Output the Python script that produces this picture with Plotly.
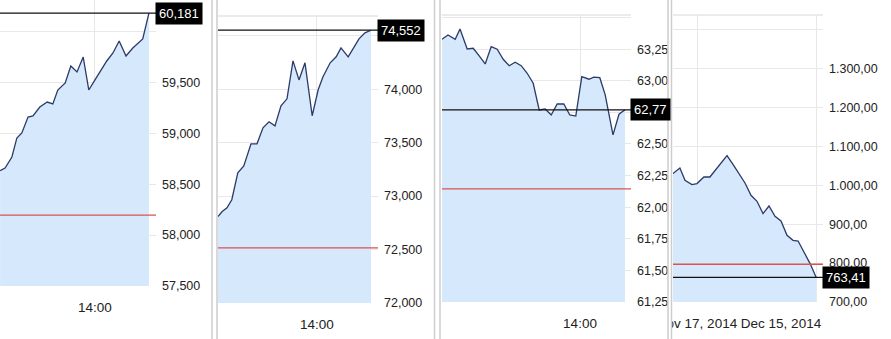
import plotly.graph_objects as go

W, H = 891, 339

# ---------------- data ----------------
# Panel 1 (minutes relative to 14:00)
p1_x = [-153, -145, -134, -126, -118, -108, -100, -89, -77, -68, -60, -48, -39, -29, -19, -10, 0, 19, 29, 39, 50, 61, 77, 87]
p1_y = [58633, 58659, 58767, 58954, 59003, 59160, 59170, 59258, 59307, 59288, 59425, 59494, 59661, 59602, 59749, 59425,
        59524, 59710, 59789, 59907, 59759, 59838, 59926, 60181]
p1_ref = 58196
p1_last_label = "60,181"
p1_ticks = [57500, 58000, 58500, 59000, 59500, 60000]
p1_ticktext = ["57,500", "58,000", "58,500", "59,000", "59,500", ""]

# Panel 2
p2_x = [-165, -158, -150, -142, -132, -122, -110, -100, -90, -80, -70, -60, -50, -40, -30, -20, -8, 2, 10, 22, 32, 40, 52, 60, 70, 80, 90]
p2_y = [72809, 72856, 72891, 72966, 73218, 73283, 73489, 73489, 73639, 73695, 73657, 73844, 73910, 74265, 74087, 74247,
        73752, 73995, 74116, 74247, 74303, 74387, 74303, 74378, 74471, 74527, 74552]
p2_ref = 72515
p2_last_label = "74,552"
p2_ticks = [72000, 72500, 73000, 73500, 74000, 74500]
p2_ticktext = ["72,000", "72,500", "73,000", "73,500", "74,000", ""]

# Panel 3
p3_x = [-230, -220, -208, -200, -188, -178, -168, -158, -148, -138, -128, -118, -108, -98, -88, -78, -68, -58, -48, -38,
        -27, -17, -7, 3, 15, 23, 33, 42, 55, 65, 75]
p3_y = [63.328, 63.362, 63.328, 63.410, 63.251, 63.257, 63.196, 63.133, 63.270, 63.249, 63.170, 63.119, 63.146, 63.119,
        63.059, 62.980, 62.769, 62.777, 62.729, 62.816, 62.816, 62.729, 62.721, 63.032, 63.012, 63.028, 63.024, 62.888,
        62.572, 62.735, 62.77]
p3_ref = 62.144
p3_last_label = "62,77"
p3_ticks = [61.25, 61.5, 61.75, 62.0, 62.25, 62.5, 62.75, 63.0, 63.25, 63.5]
p3_ticktext = ["61,25", "61,50", "61,75", "62,00", "62,25", "62,50", "", "63,00", "63,25", ""]

# Panel 4 (days relative to Nov 17, 2014)
p4_x = [-8, -5.7, -4, -1.7, 0, 2.3, 4.3, 10, 12, 14, 16, 18, 20, 22, 24, 26, 28, 30, 32, 33.7, 35.7, 37.7, 39.7]
p4_y = [1030.1, 1044.5, 1012.9, 1001.8, 1004.4, 1021.4, 1021.4, 1076.4, 1054.0, 1030.1, 1005.9, 974.3, 958.9, 927.3,
        946.8, 920.3, 908.3, 871.5, 858.6, 856.8, 827.0, 798.7, 763.41]
p4_ref = 797
p4_last_label = "763,41"
p4_ticks = [700, 800, 900, 1000, 1100, 1200, 1300, 1400]
p4_ticktext = ["700,00", "800,00", "900,00", "1.000,00", "1.100,00", "1.200,00", "1.300,00", ""]
p4_xticks = [0, 28]
p4_xticktext = ["Nov 17, 2014", "Dec 15, 2014"]

time_ticks = [0]
time_ticktext = ["14:00"]

# ---------------- style ----------------
LINE = "#2b3a67"
FILL = "#d6e8fc"
RED = "#d9534f"
GRID = "#e8e8e8"
SEP = "#cdcdcd"
FONT = "Arial, Liberation Sans, sans-serif"
TXT = "#222222"


def xd(a, b):
    return [a / W, b / W]


def yd(top, bottom):
    return [1 - bottom / H, 1 - top / H]


panels = [
    dict(x=p1_x, y=p1_y, ref=p1_ref, lab=p1_last_label, ticks=p1_ticks, tt=p1_ticktext,
         xdom=xd(0, 156), ydom=yd(0, 286), xr=[-153.2, 98.4], yr=[57500, 60309],
         xt=time_ticks, xtt=time_ticktext, top=False),
    dict(x=p2_x, y=p2_y, ref=p2_ref, lab=p2_last_label, ticks=p2_ticks, tt=p2_ticktext,
         xdom=xd(218, 378), ydom=yd(16, 303), xr=[-165, 101.7], yr=[72000, 74685],
         xt=time_ticks, xtt=time_ticktext, top=True),
    dict(x=p3_x, y=p3_y, ref=p3_ref, lab=p3_last_label, ticks=p3_ticks, tt=p3_ticktext,
         xdom=xd(442, 631), ydom=yd(15, 302), xr=[-230, 85], yr=[61.25, 63.52],
         xt=time_ticks, xtt=time_ticktext, top=True),
    dict(x=p4_x, y=p4_y, ref=p4_ref, lab=p4_last_label, ticks=p4_ticks, tt=p4_ticktext,
         xdom=xd(673, 823), ydom=yd(15, 302), xr=[-8, 42], yr=[700, 1437.8],
         xt=p4_xticks, xtt=p4_xticktext, top=True),
]

fig = go.Figure()
shapes = []
annotations = []
layout = {}

for i, p in enumerate(panels, start=1):
    sx = "" if i == 1 else str(i)
    xa, ya = "x" + sx, "y" + sx
    fig.add_trace(go.Scatter(
        x=p["x"], y=p["y"], mode="lines", xaxis=xa, yaxis=ya,
        line=dict(color=LINE, width=1.3), fill="tozeroy", fillcolor=FILL,
        showlegend=False, hoverinfo="skip"))

    xaxis = dict(domain=p["xdom"], range=p["xr"], anchor=ya, showline=False, zeroline=False,
                 tickmode="array", tickvals=p["xt"], ticktext=p["xtt"], ticks="", automargin=False,
                 tickfont=dict(family=FONT, size=13.5, color=TXT), ticklabelstandoff=11,
                 showgrid=True, gridcolor=GRID, gridwidth=1, fixedrange=True)
    if i == 4:
        xaxis["showgrid"] = False
        xaxis["minor"] = dict(tickmode="array", tickvals=[0, p["x"][-1]], showgrid=True,
                              gridcolor=GRID, gridwidth=1, ticks="")
    yaxis = dict(domain=p["ydom"], range=p["yr"], anchor=xa, side="right", showline=False,
                 zeroline=False, tickmode="array", tickvals=p["ticks"], ticktext=p["tt"], ticks="",
                 automargin=False,
                 tickfont=dict(family=FONT, size=12.5, color=TXT), ticklabelstandoff=5,
                 showgrid=True, gridcolor=GRID, gridwidth=1, fixedrange=True)
    layout["xaxis" + sx] = xaxis
    layout["yaxis" + sx] = yaxis

    dref = xa + " domain"
    # reference (red) line
    shapes.append(dict(type="line", xref=dref, x0=0, x1=1, yref=ya, y0=p["ref"], y1=p["ref"],
                       line=dict(color=RED, width=1.3), layer="above"))
    # last value line
    shapes.append(dict(type="line", xref=dref, x0=0, x1=1, yref=ya, y0=p["y"][-1], y1=p["y"][-1],
                       line=dict(color="#111111", width=1.3), layer="above"))
    if p["top"]:
        shapes.append(dict(type="line", xref=dref, x0=0, x1=1, yref=ya + " domain", y0=1, y1=1,
                           line=dict(color="#e4e4e4", width=1.5), layer="below"))
    annotations.append(dict(xref=dref, x=1, xanchor="left", xshift=-1, yref=ya, y=p["y"][-1], yanchor="middle",
                            text=p["lab"], showarrow=False, bgcolor="#000000", borderpad=3,
                            font=dict(family=FONT, size=13, color="#ffffff")))

# clip the overflowing date label at the panel edge
shapes.append(dict(type="rect", xref="paper", yref="paper", x0=630 / W, x1=671 / W, y0=0, y1=(H - 311) / H,
                   fillcolor="#ffffff", line=dict(width=0), layer="above"))
# panel separators
for sx_px in [212, 217, 434.5, 440, 668, 671.5]:
    shapes.append(dict(type="line", xref="paper", yref="paper", x0=sx_px / W, x1=sx_px / W, y0=0, y1=1,
                       line=dict(color=SEP, width=1.5), layer="above"))

fig.update_layout(
    width=W, height=H, margin=dict(l=0, r=0, t=0, b=0, autoexpand=False),
    paper_bgcolor="#ffffff", plot_bgcolor="#ffffff",
    shapes=shapes, annotations=annotations, showlegend=False,
    **layout,
)

fig.write_html("out.html", config={"displayModeBar": False})
